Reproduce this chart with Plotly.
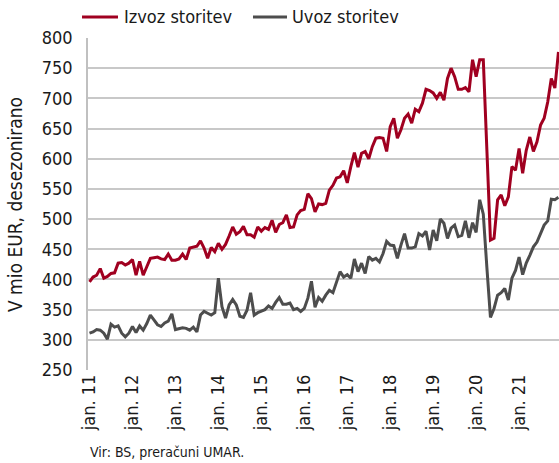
import plotly.graph_objects as go

# Monthly data Jan 2011 - Dec 2021 (index 0..131)
izvoz = [396, 404, 407, 418, 402, 405, 410, 411, 427, 428, 424, 427,
         433, 407, 430, 407, 421, 435, 436, 437, 434, 433, 442, 432,
         432, 434, 442, 433, 452, 454, 455, 464, 452, 435, 453, 446,
         460, 450, 458, 472, 487, 475, 479, 488, 474, 474, 470, 487,
         480, 486, 483, 498, 478, 491, 494, 507, 486, 487, 507, 514,
         516, 542, 534, 512, 525, 524, 526, 548, 556, 568, 570, 580,
         560, 587, 610, 586, 609, 612, 600, 620, 634, 635, 634, 612,
         653, 667, 634, 648, 667, 674, 659, 682, 678, 692, 715, 713,
         709, 700, 710, 697, 733, 750, 736, 715, 715, 718, 711, 764,
         736, 764, 764, 615, 465, 468, 532, 540, 522, 537, 587, 581,
         617, 576, 614, 636, 612, 628, 656, 667, 694, 733, 717, 777]

uvoz = [311, 313, 317, 316, 311, 301, 326, 321, 323, 311, 305, 311,
        322, 312, 323, 316, 327, 341, 333, 325, 322, 328, 331, 343,
        317, 319, 320, 319, 316, 321, 313, 341, 347, 344, 341, 345,
        402, 355, 336, 358, 367, 358, 339, 337, 349, 378, 341, 345,
        347, 350, 356, 352, 362, 370, 359, 359, 361, 350, 352, 347,
        352, 369, 397, 354, 370, 364, 374, 382, 378, 395, 413, 404,
        408, 402, 434, 413, 427, 410, 438, 432, 435, 429, 443, 463,
        457, 456, 435, 457, 476, 452, 452, 454, 476, 472, 480, 449,
        482, 464, 500, 493, 468, 485, 490, 471, 473, 497, 469, 494,
        478, 532, 508, 420, 337, 352, 374, 378, 385, 366, 402, 415,
        437, 408, 427, 440, 454, 462, 475, 490, 497, 533, 532, 536]

months = list(range(len(izvoz)))
tick_pos = [0, 12, 24, 36, 48, 60, 72, 84, 96, 108, 120]
tick_labels = ["jan. 11", "jan. 12", "jan. 13", "jan. 14", "jan. 15", "jan. 16",
               "jan. 17", "jan. 18", "jan. 19", "jan. 20", "jan. 21"]
y_ticks = [250, 300, 350, 400, 450, 500, 550, 600, 650, 700, 750, 800]
series_names = ["Izvoz storitev", "Uvoz storitev"]
series_colors = ["#a00020", "#4d4d4d"]

FONT = "DejaVu Sans Condensed, Liberation Sans Narrow, sans-serif"
TXT = "#1a1a1a"

fig = go.Figure()
for name, vals, col in zip(series_names, [izvoz, uvoz], series_colors):
    fig.add_trace(go.Scatter(x=months, y=vals, mode="lines", name=name,
                             line=dict(color=col, width=3)))

# manual legend (paper coordinates)
leg_x = [(-0.0127, 0.0637, 0.0722), (0.3503, 0.4225, 0.4289)]
shapes = []
annotations = []
for (x0, x1, xt), name, col in zip(leg_x, series_names, series_colors):
    shapes.append(dict(type="line", xref="paper", yref="paper", x0=x0, x1=x1,
                       y0=1.0633, y1=1.0633, line=dict(color=col, width=3)))
    annotations.append(dict(text=name, xref="paper", yref="paper", x=xt, y=1.0633,
                            xanchor="left", yanchor="middle", showarrow=False,
                            font=dict(family=FONT, size=18, color=TXT)))

annotations += [
    dict(text="V mio EUR, desezonirano", xref="paper", yref="paper",
         x=-0.155, y=0.5, xanchor="center", yanchor="middle",
         textangle=-90, showarrow=False,
         font=dict(family=FONT, size=19, color=TXT)),
    dict(text="Vir: BS, preračuni UMAR.", xref="paper", yref="paper",
         x=0.0, y=-0.247, xanchor="left", yanchor="middle",
         showarrow=False, font=dict(family=FONT, size=14, color=TXT)),
]

fig.update_layout(
    width=559, height=463,
    margin=dict(l=88, r=0, t=38, b=93, autoexpand=False),
    paper_bgcolor="white", plot_bgcolor="white",
    font=dict(family=FONT, size=18, color=TXT),
    showlegend=False,
    hovermode=False,
    shapes=shapes,
    annotations=annotations,
    xaxis=dict(range=[-0.42, 131.15], tickmode="array", tickvals=tick_pos,
               ticktext=tick_labels, tickangle=-90, showgrid=False,
               zeroline=False, showline=False, ticks="", automargin=False,
               tickfont=dict(family=FONT, size=18, color=TXT)),
    yaxis=dict(range=[250, 800], tickmode="array", tickvals=y_ticks,
               showgrid=True, gridcolor="#c8c8c8", gridwidth=1.5,
               zeroline=False, showline=True, linecolor="#c0c0c0", linewidth=1.5,
               ticks="", ticklabelstandoff=10, automargin=False,
               tickfont=dict(family=FONT, size=18, color=TXT)),
)

# remove the browser's default 8px body margin so the figure sits at (0, 0)
fig.write_html("out.html", config={"displayModeBar": False},
               post_script="document.body.style.margin='0';document.body.style.overflow='hidden';")
